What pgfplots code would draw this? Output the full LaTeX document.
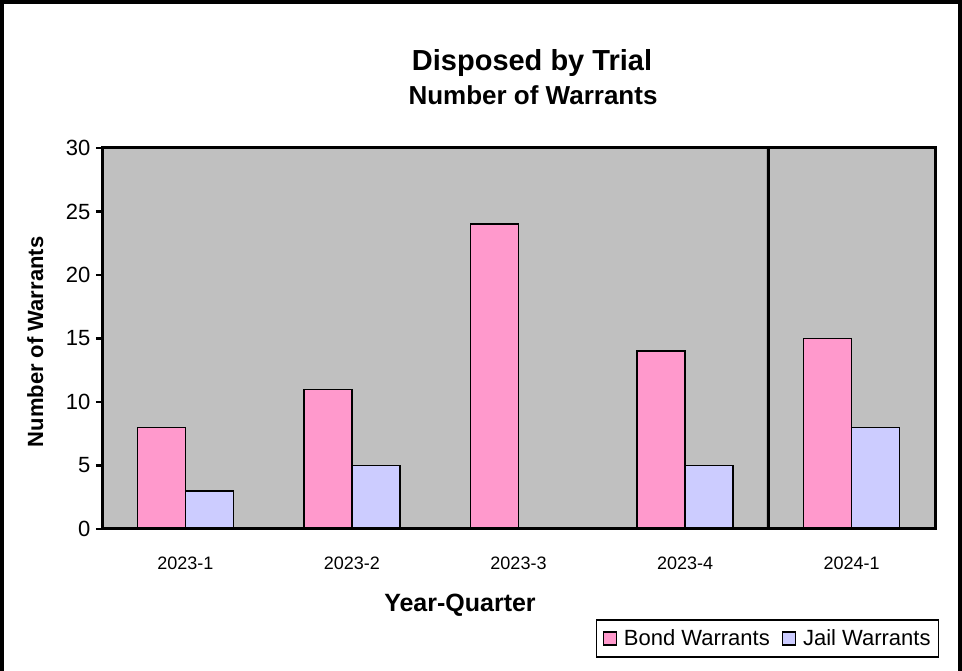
\documentclass[border=0pt]{standalone}
\usepackage{pgfplots}
\pgfplotsset{compat=1.18}
\usepackage{fontspec}
\setmainfont{Liberation Sans}
\definecolor{bond}{HTML}{FF99CC}
\definecolor{jail}{HTML}{CCCCFF}
\definecolor{bg}{HTML}{C0C0C0}
\begin{document}
\begin{tikzpicture}[x=1pt,y=1pt]
\useasboundingbox (0,0) rectangle (962,671);
\draw[line width=4pt] (2,-5) -- (2,669) -- (960,669) -- (960,-5);
\begin{axis}[
  at={(102pt,142pt)}, anchor=south west, scale only axis,
  width=833pt, height=381pt,
  xmin=-0.5, xmax=4.5, ymin=0, ymax=30,
  ybar=0pt, bar width=48pt,
  xtick={0,1,2,3,4},
  xticklabels={2023-1,2023-2,2023-3,2023-4,2024-1},
  x tick style={draw=none},
  ytick={0,5,10,15,20,25,30},
  ytick pos=left,
  y tick style={line width=2.5pt, black},
  tick align=outside, major tick length=6pt,
  axis line style={line width=3pt},
  axis background/.style={fill=bg},
  axis on top,
  xticklabel style={font=\fontsize{18}{21}\selectfont, anchor=base, yshift=-35pt},
  yticklabel style={font=\fontsize{22}{26}\selectfont, xshift=-2pt},
  /pgf/number format/assume math mode=true,
  legend style={at={(0.5930,-0.3386)}, anchor=south west, draw=black, line width=1.5pt,
    font=\fontsize{22}{26}\selectfont, inner xsep=6pt, inner ysep=8pt,
    /tikz/every odd column/.append style={column sep=5pt},
    /tikz/every even column/.append style={column sep=10pt}},
  legend columns=2,
  legend image code/.code={\draw[#1, line width=1.2pt] (0pt,-6.5pt) rectangle (13pt,6.5pt);},
]
\addplot[draw=black, line width=1.5pt, fill=bond] coordinates {(0,8) (1,11) (2,24) (3,14) (4,15)};
\addplot[draw=black, line width=1.5pt, fill=jail] coordinates {(0,3) (1,5) (2,0) (3,5) (4,8)};
\legend{Bond Warrants, Jail Warrants}
\draw[line width=3pt] (axis cs:3.5,30) -- (axis cs:3.5,0) -- ++(0,-6pt);
\end{axis}
\node[font=\fontsize{29}{34}\selectfont\bfseries, anchor=base] at (532,600) {Disposed by Trial};
\node[font=\fontsize{26}{30}\selectfont\bfseries, anchor=base] at (533,566) {Number of Warrants};
\node[font=\fontsize{25}{30}\selectfont\bfseries, anchor=base] at (460,59) {Year-Quarter};
\node[font=\fontsize{22}{26}\selectfont\bfseries, rotate=90, anchor=base] at (43,329) {Number of Warrants};
\end{tikzpicture}
\end{document}
